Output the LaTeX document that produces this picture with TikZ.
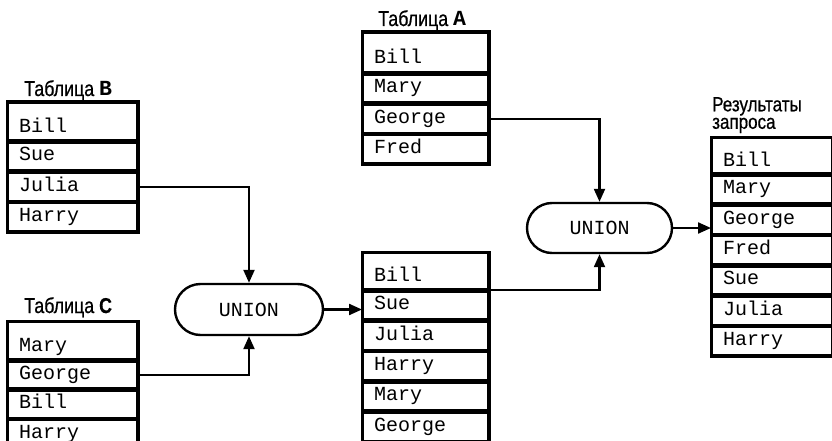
\documentclass[tikz,border=0pt]{standalone}
\usepackage{fontspec}
\setmainfont{Liberation Sans}
\newfontfamily\cellfont{Liberation Mono}
\newfontfamily\headfont[FakeStretch=0.83,FakeBold=0.6]{Liberation Sans}
\usetikzlibrary{arrows.meta,shapes.misc,calc}

\begin{document}
\begin{tikzpicture}[x=1pt,y=-1pt,
  cell/.style={draw, line width=2.3pt, rectangle, anchor=north west,
    inner xsep=11pt, inner ysep=0pt, align=left,
    font=\cellfont\fontsize{20}{24}\selectfont,
    text height=13pt, text depth=4pt, minimum height=28pt},
  short/.style={minimum height=27pt},
  toprow/.style={text height=25pt},
  wideB/.style={text width=107pt},
  wideM/.style={text width=103pt},
  wideR/.style={text width=98pt},
  frame/.style={draw, line width=3pt},
  oper/.style={draw, rounded rectangle, line width=2.4pt, inner sep=0pt,
    font=\cellfont\fontsize{20}{24}\selectfont},
  head/.style={anchor=base west, inner sep=0pt,
    font=\headfont\fontsize{21.5}{24}\selectfont},
  link/.style={line width=2.2pt, -{Triangle[length=13pt,width=11pt]}}
]
\path[use as bounding box, fill=white] (0,0) rectangle (832,441);

% Table B
\node[head] (tB) at (24,96) {Таблица \textbf{\cellfont B}};
\node[cell, wideB, toprow, minimum height=37pt] (B1) at (7,102) {Bill};
\node[cell, wideB] (B2) at (B1.south west) {Sue};
\node[cell, wideB] (B3) at (B2.south west) {Julia};
\node[cell, wideB] (B4) at (B3.south west) {Harry};
\draw[frame] (B1.north west) rectangle (B4.south east);

% Table C
\node[head] (tC) at (24,313) {Таблица \textbf{C}};
\node[cell, wideB, toprow, minimum height=37pt] (C1) at (7,321) {Mary};
\node[cell, wideB, short] (C2) at (C1.south west) {George};
\node[cell, wideB, short] (C3) at (C2.south west) {Bill};
\node[cell, wideB, short] (C4) at (C3.south west) {Harry};
\draw[frame] (C1.north west) rectangle (C4.south east);

% First union
\node[oper, minimum width=148pt, minimum height=51pt] (U1) at (249,309.5) {UNION};

% Intermediate result
\node[cell, wideM, toprow, minimum height=36pt] (M1) at (362,252) {Bill};
\node[cell, wideM] (M2) at (M1.south west) {Sue};
\node[cell, wideM] (M3) at (M2.south west) {Julia};
\node[cell, wideM] (M4) at (M3.south west) {Harry};
\node[cell, wideM] (M5) at (M4.south west) {Mary};
\node[cell, wideM] (M6) at (M5.south west) {George};
\draw[frame] (M1.north west) rectangle (M6.south east);

% Table A
\node[head] (tA) at (378,26) {Таблица \textbf{\cellfont A}};
\node[cell, wideM, toprow, minimum height=39pt] (A1) at (362,32) {Bill};
\node[cell, wideM] (A2) at (A1.south west) {Mary};
\node[cell, wideM] (A3) at (A2.south west) {George};
\node[cell, wideM] (A4) at (A3.south west) {Fred};
\draw[frame] (A1.north west) rectangle (A4.south east);

% Second union
\node[oper, minimum width=145pt, minimum height=50pt] (U2) at (599.5,228) {UNION};

% Query result
\node[head, anchor=north west, align=left,
  font=\headfont\fontsize{20.5}{17.5}\selectfont] (tR) at (712,97)
  {Результаты\\запроса};
\node[cell, wideR, toprow, minimum height=35pt] (R1) at (711,137) {Bill};
\node[cell, wideR] (R2) at (R1.south west) {Mary};
\node[cell, wideR] (R3) at (R2.south west) {George};
\node[cell, wideR] (R4) at (R3.south west) {Fred};
\node[cell, wideR] (R5) at (R4.south west) {Sue};
\node[cell, wideR] (R6) at (R5.south west) {Julia};
\node[cell, wideR] (R7) at (R6.south west) {Harry};
\draw[frame] (R1.north west) rectangle (R7.south east);

% Connectors
\draw[link] (B3.east) -| (U1.north);
\draw[link] (C2.east) -| (U1.south);
\draw[link] (U1.east) -- (U1.east -| M2.west);
\draw[link] (M1.south east) -| (U2.south);
\draw[link] (A3.east) -| (U2.north);
\draw[link] (U2.east) -- (U2.east -| R3.west);
\end{tikzpicture}
\end{document}
